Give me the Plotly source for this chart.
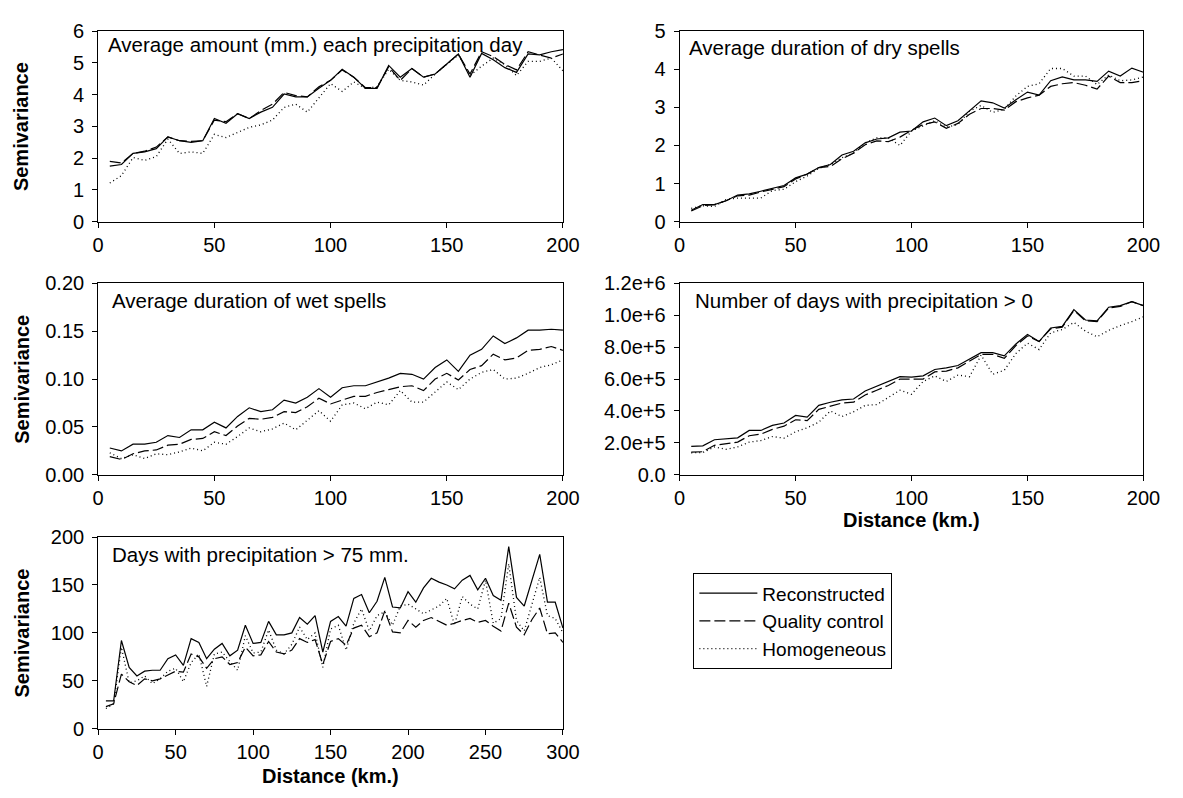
import plotly.graph_objects as go

# ---------------- data ----------------
dist_200 = [5, 10, 15, 20, 25, 30, 35, 40, 45, 50, 55, 60, 65, 70, 75, 80, 85, 90, 95, 100,
            105, 110, 115, 120, 125, 130, 135, 140, 145, 150, 155, 160, 165, 170, 175, 180, 185, 190, 195, 200]
dist_300 = [5, 10, 15, 20, 25, 30, 35, 40, 45, 50, 55, 60, 65, 70, 75, 80, 85, 90, 95, 100,
            105, 110, 115, 120, 125, 130, 135, 140, 145, 150, 155, 160, 165, 170, 175, 180, 185, 190, 195, 200,
            205, 210, 215, 220, 225, 230, 235, 240, 245, 250, 255, 260, 265, 270, 275, 280, 285, 290, 295, 300]

series_names = ["Reconstructed", "Quality control", "Homogeneous"]

# Panel 1: Average amount (mm.) each precipitation day
amount_rec = [1.75, 1.8, 2.15, 2.2, 2.3, 2.67, 2.55, 2.5, 2.55, 3.25, 3.1, 3.4, 3.25, 3.45, 3.6, 4.02, 3.93, 3.93, 4.2, 4.45,
              4.8, 4.55, 4.2, 4.2, 4.92, 4.55, 4.82, 4.55, 4.65, 4.95, 5.28, 4.55, 5.3, 5.1, 4.85, 4.7, 5.28, 5.25, 5.35, 5.42]
amount_qc = [1.9, 1.85, 2.15, 2.22, 2.35, 2.67, 2.55, 2.53, 2.55, 3.2, 3.15, 3.4, 3.25, 3.5, 3.7, 4.07, 3.97, 3.93, 4.25, 4.45,
             4.78, 4.55, 4.22, 4.22, 4.88, 4.45, 4.82, 4.55, 4.65, 4.95, 5.28, 4.65, 5.35, 5.2, 4.95, 4.78, 5.35, 5.25, 5.15, 5.28]
amount_hom = [1.22, 1.45, 2.02, 1.93, 2.05, 2.6, 2.15, 2.2, 2.15, 2.75, 2.65, 2.8, 2.97, 3.05, 3.2, 3.6, 3.7, 3.45, 3.9, 4.35,
              4.1, 4.4, 4.2, 4.25, 4.8, 4.45, 4.4, 4.3, 4.65, 4.95, 5.25, 4.6, 4.9, 5.15, 4.95, 4.6, 5.05, 5.05, 5.15, 4.75]

# Panel 2: Average duration of dry spells
dry_rec = [0.3, 0.45, 0.45, 0.55, 0.7, 0.73, 0.8, 0.87, 0.95, 1.15, 1.25, 1.42, 1.5, 1.75, 1.85, 2.07, 2.17, 2.2, 2.35, 2.38,
           2.62, 2.72, 2.52, 2.65, 2.9, 3.17, 3.12, 2.98, 3.2, 3.4, 3.32, 3.7, 3.8, 3.72, 3.72, 3.68, 3.95, 3.82, 4.03, 3.92]
dry_qc = [0.28, 0.42, 0.45, 0.55, 0.68, 0.7, 0.78, 0.85, 0.92, 1.12, 1.25, 1.42, 1.45, 1.65, 1.8, 2.02, 2.12, 2.1, 2.22, 2.4,
          2.55, 2.62, 2.45, 2.58, 2.82, 2.97, 2.97, 2.93, 3.15, 3.25, 3.32, 3.55, 3.62, 3.65, 3.58, 3.48, 3.82, 3.65, 3.65, 3.7]
dry_hom = [0.35, 0.42, 0.4, 0.58, 0.62, 0.62, 0.62, 0.82, 0.85, 1.05, 1.2, 1.4, 1.5, 1.68, 1.8, 2.07, 2.2, 2.2, 2.0, 2.38,
           2.52, 2.65, 2.48, 2.55, 2.9, 3.05, 2.87, 2.95, 3.3, 3.55, 3.62, 4.02, 4.02, 3.82, 3.82, 3.6, 3.85, 3.7, 3.72, 3.8]

# Panel 3: Average duration of wet spells
wet_rec = [0.028, 0.025, 0.032, 0.032, 0.034, 0.041, 0.039, 0.047, 0.047, 0.055, 0.049, 0.061, 0.07, 0.066, 0.068, 0.078,
           0.075, 0.081, 0.09, 0.081, 0.091, 0.093, 0.093, 0.097, 0.101, 0.106, 0.105, 0.1, 0.112, 0.12, 0.108, 0.125,
           0.131, 0.145, 0.137, 0.143, 0.151, 0.151, 0.152, 0.151]
wet_qc = [0.019, 0.016, 0.022, 0.025, 0.026, 0.031, 0.032, 0.037, 0.038, 0.045, 0.041, 0.051, 0.059, 0.058, 0.06, 0.066,
          0.065, 0.071, 0.08, 0.074, 0.078, 0.082, 0.082, 0.086, 0.089, 0.092, 0.093, 0.088, 0.1, 0.106, 0.099, 0.11,
          0.114, 0.126, 0.12, 0.122, 0.13, 0.131, 0.134, 0.13]
wet_hom = [0.023, 0.017, 0.021, 0.017, 0.022, 0.021, 0.024, 0.028, 0.025, 0.034, 0.032, 0.04, 0.049, 0.045, 0.048, 0.054,
           0.047, 0.057, 0.067, 0.056, 0.073, 0.075, 0.069, 0.076, 0.073, 0.088, 0.076, 0.076, 0.086, 0.097, 0.089, 0.1,
           0.107, 0.11, 0.1, 0.101, 0.106, 0.112, 0.115, 0.12]

# Panel 4: Number of days with precipitation > 0
days0_rec = [1.78e5, 1.82e5, 2.2e5, 2.25e5, 2.32e5, 2.78e5, 2.78e5, 3.1e5, 3.25e5, 3.72e5, 3.62e5, 4.35e5, 4.55e5, 4.7e5,
             4.75e5, 5.25e5, 5.55e5, 5.8e5, 6.15e5, 6.12e5, 6.2e5, 6.6e5, 6.7e5, 6.85e5, 7.25e5, 7.65e5, 7.65e5, 7.45e5,
             8.2e5, 8.8e5, 8.35e5, 9.2e5, 9.3e5, 1.035e6, 9.7e5, 9.65e5, 1.05e6, 1.06e6, 1.085e6, 1.06e6]
days0_qc = [1.42e5, 1.45e5, 1.85e5, 1.95e5, 2.05e5, 2.45e5, 2.55e5, 2.85e5, 3.05e5, 3.45e5, 3.4e5, 4.1e5, 4.3e5, 4.5e5,
            4.55e5, 5.0e5, 5.3e5, 5.6e5, 6.0e5, 6.0e5, 6.0e5, 6.45e5, 6.5e5, 6.7e5, 7.1e5, 7.55e5, 7.55e5, 7.3e5,
            8.1e5, 8.7e5, 8.35e5, 9.15e5, 9.25e5, 1.03e6, 9.65e5, 9.6e5, 1.045e6, 1.055e6, 1.085e6, 1.06e6]
days0_hom = [1.38e5, 1.4e5, 1.75e5, 1.6e5, 1.75e5, 2.05e5, 2.15e5, 2.4e5, 2.3e5, 2.7e5, 2.95e5, 3.3e5, 4.0e5, 3.65e5,
             3.95e5, 4.35e5, 4.4e5, 4.85e5, 5.3e5, 5.05e5, 5.85e5, 6.2e5, 5.85e5, 6.25e5, 6.15e5, 7.5e5, 6.3e5, 6.55e5,
             7.6e5, 8.25e5, 7.85e5, 8.9e5, 9.1e5, 9.55e5, 9.0e5, 8.65e5, 9.05e5, 9.35e5, 9.6e5, 9.9e5]

# Panel 5: Days with precipitation > 75 mm.
days75_rec = [29, 29, 92, 64, 55, 60, 61, 61, 73, 77, 66, 94, 90, 73, 83, 89, 76, 82, 108, 89,
              90, 112, 98, 98, 100, 116, 109, 118, 80, 112, 117, 107, 136, 140, 121, 133, 158, 127, 126, 143,
              132, 147, 157, 153, 150, 146, 155, 160, 145, 157, 139, 134, 190, 137, 128, 155, 182, 132, 132, 105]
days75_qc = [23, 26, 57, 49, 45, 52, 50, 52, 56, 60, 59, 78, 75, 63, 73, 75, 67, 69, 85, 76,
             77, 91, 80, 78, 82, 94, 90, 93, 67, 91, 94, 87, 105, 108, 96, 100, 123, 101, 100, 113,
             106, 113, 116, 112, 108, 110, 113, 115, 111, 113, 107, 102, 131, 106, 98, 114, 126, 99, 100, 90]
days75_hom = [21, 26, 85, 48, 50, 55, 47, 52, 60, 63, 49, 69, 78, 44, 78, 80, 70, 61, 97, 79,
              80, 103, 82, 78, 88, 106, 93, 100, 64, 104, 108, 82, 110, 125, 102, 118, 122, 108, 128, 130,
              125, 120, 124, 128, 136, 108, 138, 130, 125, 155, 110, 115, 172, 113, 102, 130, 158, 118, 115, 100]

panel_titles = ["Average amount (mm.) each precipitation day",
                "Average duration of dry spells",
                "Average duration of wet spells",
                "Number of days with precipitation > 0",
                "Days with precipitation > 75 mm."]

p4_tickvals = [0, 2e5, 4e5, 6e5, 8e5, 1.0e6, 1.2e6]
p4_ticktext = ["0.0", "2.0e+5", "4.0e+5", "6.0e+5", "8.0e+5", "1.0e+6", "1.2e+6"]

# ---------------- layout geometry (pixels) ----------------
W, H = 1183, 798
FONT = "Liberation Sans, Arial, Helvetica, sans-serif"


def px_x(v):
    return v / W


def px_y(v):
    return 1 - v / H


left_col = (94, 568)
right_col = (687, 1160)
rows = [(20.7, 216.7), (280, 477), (541, 738)]

panels = [
    dict(x=dist_200, ys=[amount_rec, amount_qc, amount_hom], col=left_col, row=rows[0], xr=[0, 200], yr=[0, 6],
         ydt=1, tdx=8, tdy=14),
    dict(x=dist_200, ys=[dry_rec, dry_qc, dry_hom], col=right_col, row=rows[0], xr=[0, 200], yr=[0, 5],
         ydt=1, tdx=8, tdy=17),
    dict(x=dist_200, ys=[wet_rec, wet_qc, wet_hom], col=left_col, row=rows[1], xr=[0, 200], yr=[0, 0.2],
         ydt=0.05, tdx=12, tdy=18),
    dict(x=dist_200, ys=[days0_rec, days0_qc, days0_hom], col=right_col, row=rows[1], xr=[0, 200], yr=[0, 1.2e6],
         ydt=None, tdx=14, tdy=18),
    dict(x=dist_300, ys=[days75_rec, days75_qc, days75_hom], col=left_col, row=rows[2], xr=[0, 300], yr=[0, 200],
         ydt=50, tdx=12, tdy=18),
]

dashes = ["solid", "11px,4px", "1px,3px"]
widths = [1.2, 1.2, 1.3]

fig = go.Figure()
annotations = []

for i, p in enumerate(panels):
    n = i + 1
    xa = "x" if n == 1 else f"x{n}"
    ya = "y" if n == 1 else f"y{n}"
    for k in range(3):
        fig.add_trace(go.Scatter(
            x=p["x"], y=p["ys"][k], mode="lines", name=series_names[k],
            line=dict(color="black", width=widths[k], dash=dashes[k]),
            xaxis=xa, yaxis=ya, showlegend=(n == 1), hoverinfo="skip"))

    axis_common = dict(showline=True, linecolor="black", linewidth=1, mirror=True,
                       ticks="outside", ticklen=5, tickcolor="black", tickwidth=1,
                       showgrid=False, zeroline=False,
                       tickfont=dict(family=FONT, size=20, color="black"))
    xlay = dict(axis_common, domain=[px_x(p["col"][0]), px_x(p["col"][1])], range=p["xr"],
                dtick=50, tick0=0, anchor=ya)
    ylay = dict(axis_common, domain=[px_y(p["row"][1]), px_y(p["row"][0])], range=p["yr"], anchor=xa,
                ticklabelstandoff=4)
    if p["ydt"] is not None:
        ylay.update(dtick=p["ydt"], tick0=0)
        if n == 3:
            ylay["tickformat"] = ".2f"
    else:
        ylay.update(tickmode="array", tickvals=p4_tickvals, ticktext=p4_ticktext)
    fig.update_layout({("xaxis" if n == 1 else f"xaxis{n}"): xlay,
                       ("yaxis" if n == 1 else f"yaxis{n}"): ylay})

    annotations.append(dict(text=panel_titles[i], xref="paper", yref="paper",
                            x=px_x(p["col"][0] + p["tdx"]), y=px_y(p["row"][0] + p["tdy"]),
                            xanchor="left", yanchor="middle", showarrow=False,
                            font=dict(family=FONT, size=20.5, color="black")))

# Axis titles
for r in rows:
    annotations.append(dict(text="<b>Semivariance</b>", xref="paper", yref="paper",
                            x=px_x(16), y=px_y((r[0] + r[1]) / 2), textangle=-90,
                            xanchor="center", yanchor="middle", showarrow=False,
                            font=dict(family=FONT, size=20, color="black")))
annotations.append(dict(text="<b>Distance (km.)</b>", xref="paper", yref="paper",
                        x=px_x((right_col[0] + right_col[1]) / 2), y=px_y(523),
                        xanchor="center", yanchor="middle", showarrow=False,
                        font=dict(family=FONT, size=20, color="black")))
annotations.append(dict(text="<b>Distance (km.)</b>", xref="paper", yref="paper",
                        x=px_x((left_col[0] + left_col[1]) / 2), y=px_y(787),
                        xanchor="center", yanchor="middle", showarrow=False,
                        font=dict(family=FONT, size=20, color="black")))

fig.update_layout(
    width=W, height=H, margin=dict(l=0, r=0, t=0, b=0),
    paper_bgcolor="white", plot_bgcolor="white",
    annotations=annotations,
    showlegend=True,
    legend=dict(x=px_x(701), y=px_y(677), xanchor="left", yanchor="bottom",
                bordercolor="black", borderwidth=1, bgcolor="white",
                font=dict(family=FONT, size=19, color="black"),
                itemwidth=58, tracegroupgap=0),
)

fig.write_html("out.html")
